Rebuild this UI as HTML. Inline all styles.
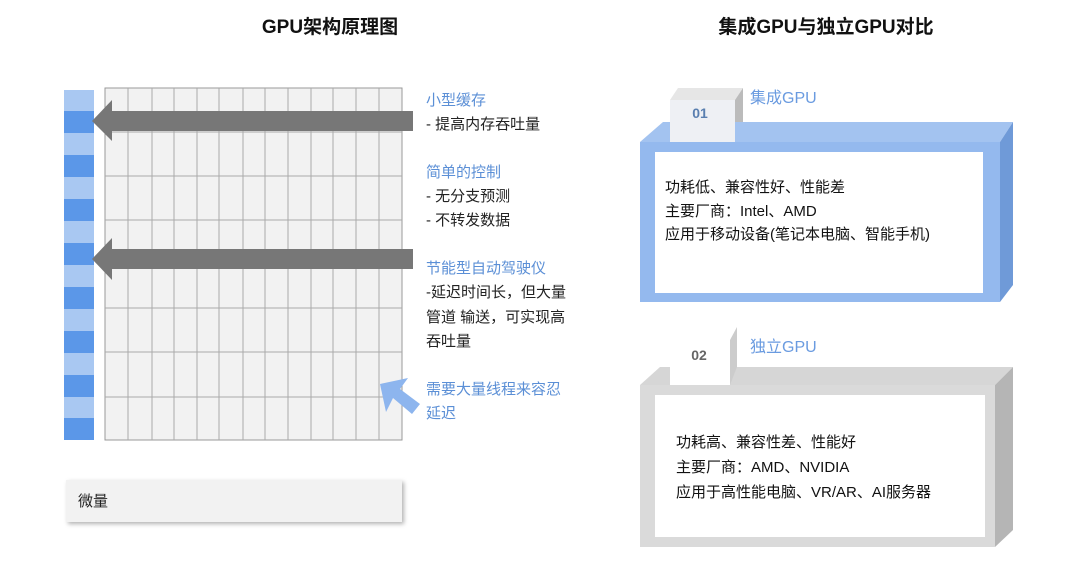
<!DOCTYPE html>
<html><head><meta charset="utf-8"><style>
body{margin:0;background:#fff}
svg{display:block}
text{font-family:"Liberation Sans","Noto Sans CJK SC",sans-serif}
</style></head><body>
<svg width="1080" height="575" viewBox="0 0 1080 575" xmlns="http://www.w3.org/2000/svg">
<defs><filter id="sh" x="-10%" y="-30%" width="120%" height="160%"><feDropShadow dx="2" dy="2" stdDeviation="2" flood-color="#000" flood-opacity="0.3"/></filter></defs>
<text x="330" y="33" font-size="19" font-weight="bold" text-anchor="middle" fill="#111">GPU架构原理图</text>
<text x="826" y="33" font-size="19" font-weight="bold" text-anchor="middle" fill="#111">集成GPU与独立GPU对比</text>
<!-- grid -->
<rect x="105" y="88" width="297" height="352" fill="#f2f2f2" stroke="#999" stroke-width="1"/>
<g stroke="#aaa" stroke-width="1">
<line x1="128" y1="88" x2="128" y2="440"/><line x1="152" y1="88" x2="152" y2="440"/><line x1="174" y1="88" x2="174" y2="440"/><line x1="197" y1="88" x2="197" y2="440"/><line x1="219" y1="88" x2="219" y2="440"/><line x1="243" y1="88" x2="243" y2="440"/><line x1="265" y1="88" x2="265" y2="440"/><line x1="288" y1="88" x2="288" y2="440"/><line x1="311" y1="88" x2="311" y2="440"/><line x1="333" y1="88" x2="333" y2="440"/><line x1="356" y1="88" x2="356" y2="440"/><line x1="379" y1="88" x2="379" y2="440"/>
<line x1="105" y1="132" x2="402" y2="132"/><line x1="105" y1="176" x2="402" y2="176"/><line x1="105" y1="220" x2="402" y2="220"/><line x1="105" y1="265" x2="402" y2="265"/><line x1="105" y1="308" x2="402" y2="308"/><line x1="105" y1="352" x2="402" y2="352"/><line x1="105" y1="397" x2="402" y2="397"/>
</g>
<!-- left bar -->
<rect x="64" y="90" width="30" height="350" fill="#a9c8f2"/>
<g fill="#5b97e8">
<rect x="64" y="111" width="30" height="22"/><rect x="64" y="155" width="30" height="22"/><rect x="64" y="199" width="30" height="22"/><rect x="64" y="243" width="30" height="22"/><rect x="64" y="287" width="30" height="22"/><rect x="64" y="331" width="30" height="22"/><rect x="64" y="375" width="30" height="22"/><rect x="64" y="418" width="30" height="22"/>
</g>
<!-- arrows -->
<polygon points="92,121 112,100 112,111 413,111 413,131 112,131 112,141" fill="#777"/>
<polygon points="92,259 112,238 112,249 413,249 413,269 112,269 112,280" fill="#777"/>
<polygon points="380,384 408,378 400,389 420,404 412,414 393,398 386,412" fill="#8db5ee"/>
<!-- labels -->
<g font-size="15">
<text x="426" y="105" fill="#5b8fd6">小型缓存</text>
<text x="426" y="129" fill="#222">-    提高内存吞吐量</text>
<text x="426" y="177" fill="#5b8fd6">简单的控制</text>
<text x="426" y="201" fill="#222">- 无分支预测</text>
<text x="426" y="225" fill="#222">- 不转发数据</text>
<text x="426" y="273" fill="#5b8fd6">节能型自动驾驶仪</text>
<text x="426" y="297" fill="#222">-延迟时间长，但大量</text>
<text x="426" y="322" fill="#222">管道 输送，可实现高</text>
<text x="426" y="346" fill="#222">吞吐量</text>
<text x="426" y="394" fill="#5b8fd6">需要大量线程来容忍</text>
<text x="426" y="418" fill="#5b8fd6">延迟</text>
</g>
<rect x="66" y="480" width="336" height="42" fill="#f2f2f2" filter="url(#sh)"/>
<text x="78" y="506" font-size="15" fill="#222">微量</text>
<!-- box 1 -->
<polygon points="670,100 678,88 743,88 735,100" fill="#e6e6e6"/>
<polygon points="735,100 743,88 743,142 735,142" fill="#bbb"/>
<rect x="670" y="100" width="65" height="45" fill="#eef0f4"/>
<text x="700" y="118" font-size="14" font-weight="bold" text-anchor="middle" fill="#5a7fb0">01</text>
<polygon points="640,142 663,122 670,122 670,142" fill="#a3c3f0"/>
<polygon points="735,142 735,122 1013,122 1000,142" fill="#a3c3f0"/>
<polygon points="1000,142 1013,122 1013,285 1000,302" fill="#6f9ad8"/>
<rect x="640" y="142" width="360" height="160" fill="#94b9ee"/>
<rect x="655" y="152" width="328" height="141" fill="#fff"/>
<text x="750" y="103" font-size="16" fill="#6a9be0">集成GPU</text>
<g font-size="15" fill="#111">
<text x="665" y="192">功耗低、兼容性好、性能差</text>
<text x="665" y="216">主要厂商：Intel、AMD</text>
<text x="665" y="239">应用于移动设备(笔记本电脑、智能手机)</text>
</g>
<!-- box 2 -->
<polygon points="730,340 737,327 737,385 730,385" fill="#ccc"/>
<rect x="670" y="340" width="60" height="48" fill="#fff"/>
<text x="699" y="360" font-size="14" font-weight="bold" text-anchor="middle" fill="#666">02</text>
<polygon points="640,385 660,367 670,367 670,385" fill="#d6d6d6"/>
<polygon points="730,385 737,367 1013,367 995,385" fill="#d6d6d6"/>
<polygon points="995,385 1013,367 1013,530 995,547" fill="#b5b5b5"/>
<rect x="640" y="385" width="355" height="162" fill="#dadada"/>
<rect x="655" y="395" width="330" height="142" fill="#fff"/>
<text x="750" y="352" font-size="16" fill="#6a9be0">独立GPU</text>
<g font-size="15" fill="#111">
<text x="676" y="447">功耗高、兼容性差、性能好</text>
<text x="676" y="472">主要厂商：AMD、NVIDIA</text>
<text x="676" y="497">应用于高性能电脑、VR/AR、AI服务器</text>
</g>
</svg>
</body></html>
